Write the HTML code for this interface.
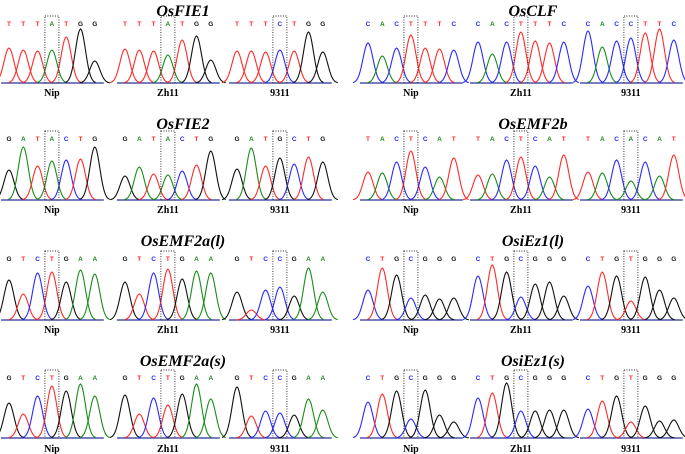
<!DOCTYPE html>
<html><head><meta charset="utf-8">
<style>
html,body{margin:0;padding:0;background:#fff;}
svg{display:block;}
.title{font-family:"Liberation Serif",serif;font-weight:bold;font-style:italic;font-size:16px;}
.lab{font-family:"Liberation Serif",serif;font-weight:bold;font-size:10px;}
.base{font-family:"Liberation Sans",sans-serif;font-size:6.5px;font-weight:bold;}
</style></head>
<body>
<svg id="fig" width="685" height="454" viewBox="0 0 685 454"></svg>
<script>
const genes = ["OsFIE1","OsCLF","OsFIE2","OsEMF2b","OsEMF2a(l)","OsiEz1(l)","OsEMF2a(s)","OsiEz1(s)"];
const samples = ["Nip","Zh11","9311"];
const seqs = [
 ["TTTATGG","TTTATGG","TTTCTGG"],
 ["CACTTTC","CACTTTC","CACCTTC"],
 ["GATACTG","GATACTG","GATGCTG"],
 ["TACTCAT","TACTCAT","TACACAT"],
 ["GTCTGAA","GTCTGAA","GTCCGAA"],
 ["CTGCGGG","CTGCGGG","CTGTGGG"],
 ["GTCTGAA","GTCTGAA","GTCCGAA"],
 ["CTGCGGG","CTGCGGG","CTGTGGG"]
];
const heights = [
 [[35,33,32,33,46,54,22],[34,33,32,28,43,47,23],[32,32,31,33,32,51,31]],
 [[40,27,35,48,35,34,33],[41,29,41,51,42,40,41],[52,36,42,45,50,54,43]],
 [[30,53,34,39,40,41,53],[24,33,26,25,29,35,49],[31,52,34,42,36,43,38]],
 [[28,27,38,49,33,23,42],[25,26,40,43,34,23,45],[28,27,40,19,38,24,45]],
 [[40,26,47,48,38,50,46],[38,26,47,51,41,49,47],[28,10,30,33,24,52,28]],
 [[30,52,45,22,25,21,22],[44,55,48,23,36,38,24],[34,48,44,19,43,30,22]],
 [[35,24,42,52,47,54,42],[43,24,40,33,44,54,39],[51,22,27,25,23,39,28]],
 [[36,44,47,19,48,23,16],[40,45,55,27,27,28,28],[29,37,42,16,32,17,18]]
];
const snpIndex = 3;
const rowTitleY=[16,129,246,366], rowLetterY=[26,141,261,380], rowBaseY=[83,200,320,438], rowLabelY=[96,213,333,452];
const groupPanelX=[[9,125,237],[368,478,588]];
const groupTitleX=[183,533];
const step=14.3, sigma=5;
const colors={A:"#1a8c1a",C:"#2a2aff",G:"#111",T:"#ff2a2a"};
const NS="http://www.w3.org/2000/svg";
const svg=document.getElementById('fig');
function mk(tag,attrs){const e=document.createElementNS(NS,tag);for(const k in attrs)e.setAttribute(k,attrs[k]);return e;}
function xPos(p0,i){return p0+i*step;}
function yPos(base,h){return base-h;}
genes.forEach((g,gi)=>{
  const row=Math.floor(gi/2), grp=gi%2;
  const t=mk('text',{x:groupTitleX[grp],y:rowTitleY[row],'text-anchor':'middle',class:'title'});
  t.textContent=g;
  
  
  svg.appendChild(t);
  samples.forEach((s,si)=>{
    const p0=groupPanelX[grp][si], base=rowBaseY[row];
    const gEl=mk('g',{});
    
    
    svg.appendChild(gEl);
    const seq=seqs[gi][si], hs=heights[gi][si];
    const bl=mk('line',{x1:p0-8,x2:xPos(p0,6)+9,y1:base,y2:base,stroke:'#28309a','stroke-width':1.2});
    
    
    gEl.appendChild(bl);
    for(let i=0;i<seq.length;i++){
      const b=seq[i], cx=xPos(p0,i);
      const lt=mk('text',{x:cx,y:rowLetterY[row],'text-anchor':'middle',class:'base',fill:colors[b]});
      lt.textContent=b;
      
      
      gEl.appendChild(lt);
      let d='';
      for(let dx=-15;dx<=15;dx+=1){
        const h=hs[i]*Math.exp(-dx*dx/(2*sigma*sigma));
        d+=(dx===-15?'M':'L')+(cx+dx).toFixed(1)+','+yPos(base,h).toFixed(1);
      }
      const pk=mk('path',{d:d,fill:'none',stroke:colors[b],'stroke-width':1.1});
      
      
      gEl.appendChild(pk);
    }
    const cx=xPos(p0,snpIndex);
    const box=mk('rect',{x:cx-7,y:rowLetterY[row]-10,width:14,height:base-rowLetterY[row]+10,fill:'none',stroke:'#222','stroke-width':0.9,'stroke-dasharray':'1,1.5'});
    
    
    gEl.appendChild(box);
    const lb=mk('text',{x:xPos(p0,3),y:rowLabelY[row],'text-anchor':'middle',class:'lab'});
    lb.textContent=s;
    
    
    gEl.appendChild(lb);
  });
});
</script>
</body></html>
